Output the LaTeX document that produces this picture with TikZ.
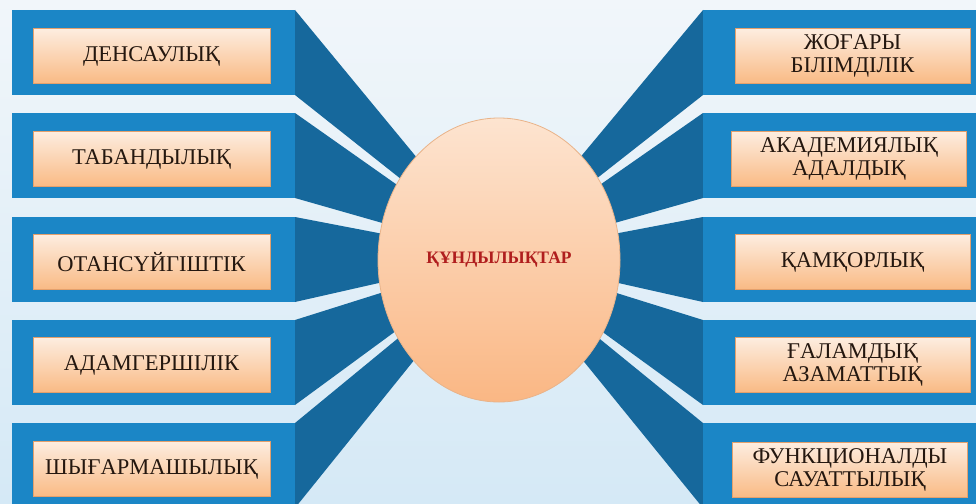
\documentclass[tikz,border=0pt]{standalone}
\usepackage{fontspec}
\setmainfont{Liberation Serif}
\usetikzlibrary{shapes.geometric}
\definecolor{bgtop}{HTML}{F1F6FA}
\definecolor{bgbot}{HTML}{D5E9F6}
\definecolor{barblue}{HTML}{1B86C6}
\definecolor{trapblue}{HTML}{16689C}
\definecolor{boxtop}{HTML}{FDEDE0}
\definecolor{boxbot}{HTML}{F9BA84}
\definecolor{boxedge}{HTML}{E4A06C}
\definecolor{elltop}{HTML}{FDE4D0}
\definecolor{ellbot}{HTML}{FAB784}
\definecolor{txt}{HTML}{24170F}
\definecolor{ctxt}{HTML}{B01E1E}
\begin{document}
\begin{tikzpicture}[x=1pt,y=-1pt,
  valbox/.style={minimum width=237pt, minimum height=55pt, inner sep=0pt,
    top color=boxtop, bottom color=boxbot, draw=boxedge, line width=0.6pt,
    font=\fontsize{22.5}{23}\selectfont, text=txt, align=center},
  bar/.style={fill=barblue},
  trap/.style={fill=trapblue},
  hub/.style={ellipse, minimum width=242pt, minimum height=284pt, inner sep=0pt,
    top color=elltop, bottom color=ellbot, draw=boxedge!80, line width=0.8pt,
    font=\fontsize{17.5}{18}\selectfont\bfseries, text=ctxt}]
\path[use as bounding box] (0,0) rectangle (976,503);
\clip (0,0) rectangle (976,503);
\shade[top color=bgtop,bottom color=bgbot] (0,0) rectangle (976,503);
\coordinate (C) at (498,256);
\foreach \t in {10,113,217,320,423}{
  \fill[trap] (295,\t) -- (295,\t+85) -- (C) -- cycle;
  \fill[trap] (703,\t) -- (703,\t+85) -- (C) -- cycle;
  \fill[bar] (12,\t) rectangle (295,\t+85);
  \fill[bar] (703,\t) rectangle (990,\t+85);
}
\node[hub] (c) at (499,260) {\raisebox{-4pt}{ҚҰНДЫЛЫҚТАР}};
\node[valbox] (l1) at (151.5,56) {ДЕНСАУЛЫҚ};
\node[valbox] (l2) at (151.5,159) {ТАБАНДЫЛЫҚ};
\node[valbox] (l3) at (151.5,262) {ОТАНСҮЙГІШТІК};
\node[valbox] (l4) at (151.5,365) {АДАМГЕРШІЛІК};
\node[valbox] (l5) at (151.5,469) {ШЫҒАРМАШЫЛЫҚ};
\node[valbox,minimum width=235pt] (r1) at (852.5,56) {ЖОҒАРЫ\\БІЛІМДІЛІК};
\node[valbox,minimum width=235pt] (r2) at (849,159) {АКАДЕМИЯЛЫҚ\\АДАЛДЫҚ};
\node[valbox,minimum width=235pt] (r3) at (852.5,262) {ҚАМҚОРЛЫҚ};
\node[valbox,minimum width=235pt] (r4) at (852.5,365) {ҒАЛАМДЫҚ\\АЗАМАТТЫҚ};
\node[valbox,minimum width=235pt] (r5) at (850,470) {ФУНКЦИОНАЛДЫ\\САУАТТЫЛЫҚ};
\end{tikzpicture}
\end{document}
